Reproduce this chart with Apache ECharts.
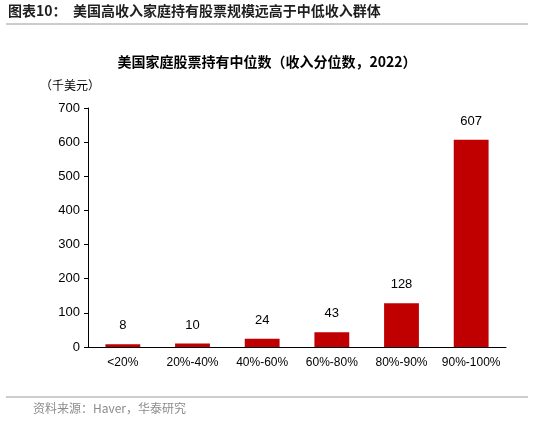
<!DOCTYPE html>
<html><head><meta charset="utf-8">
<script src="https://cdn.jsdelivr.net/npm/echarts@6/dist/echarts.min.js"></script>
<style>body{margin:0;background:#fff}#c{width:534px;height:424px}</style>
</head><body><div id="c"></div>
<script>
const categories = ["<20%","20%-40%","40%-60%","60%-80%","80%-90%","90%-100%"];
const values = [8,10,24,43,128,607];
const chart = echarts.init(document.getElementById('c'));
const F = '"Noto Sans CJK SC", sans-serif';
chart.setOption({
  animation:false,
  graphic:[
    {type:'text',left:8,top:4,style:{text:'图表10：  美国高收入家庭持有股票规模远高于中低收入群体',font:'bold 14px '+F,fill:'#1f1f1f'}},
    {type:'line',shape:{x1:6,y1:24,x2:528,y2:24},style:{stroke:'#9a9a9a',lineWidth:1}},
    {type:'text',left:'center',top:55,style:{text:'美国家庭股票持有中位数（收入分位数，2022）',font:'bold 14px '+F,fill:'#000'}},
    {type:'text',left:40,top:79,style:{text:'（千美元）',font:'12px '+F,fill:'#000'}},
    {type:'line',shape:{x1:6,y1:397,x2:528,y2:397},style:{stroke:'#9a9a9a',lineWidth:1}},
    {type:'text',left:33,top:402,style:{text:'资料来源：Haver，华泰研究',font:'12px '+F,fill:'#8c8c8c'}}
  ],
  grid:{left:88,right:28,top:108,bottom:77},
  xAxis:{type:'category',data:categories,
    axisLine:{lineStyle:{color:'#000'}},axisTick:{show:false},
    axisLabel:{interval:0,color:'#000',fontSize:12,fontFamily:'Arial, Liberation Sans',margin:10}},
  yAxis:{type:'value',min:0,max:700,interval:100,
    axisLine:{show:true,lineStyle:{color:'#000'}},axisTick:{show:true,length:4,lineStyle:{color:'#000'}},
    splitLine:{show:false},
    axisLabel:{color:'#000',fontSize:13,fontFamily:'Arial, Liberation Sans'}},
  series:[{type:'bar',data:values,barWidth:'50%',itemStyle:{color:'#C00000'},
    label:{show:true,position:'top',distance:12,color:'#000',fontSize:13,fontFamily:'Arial, Liberation Sans'}}]
});
</script></body></html>
